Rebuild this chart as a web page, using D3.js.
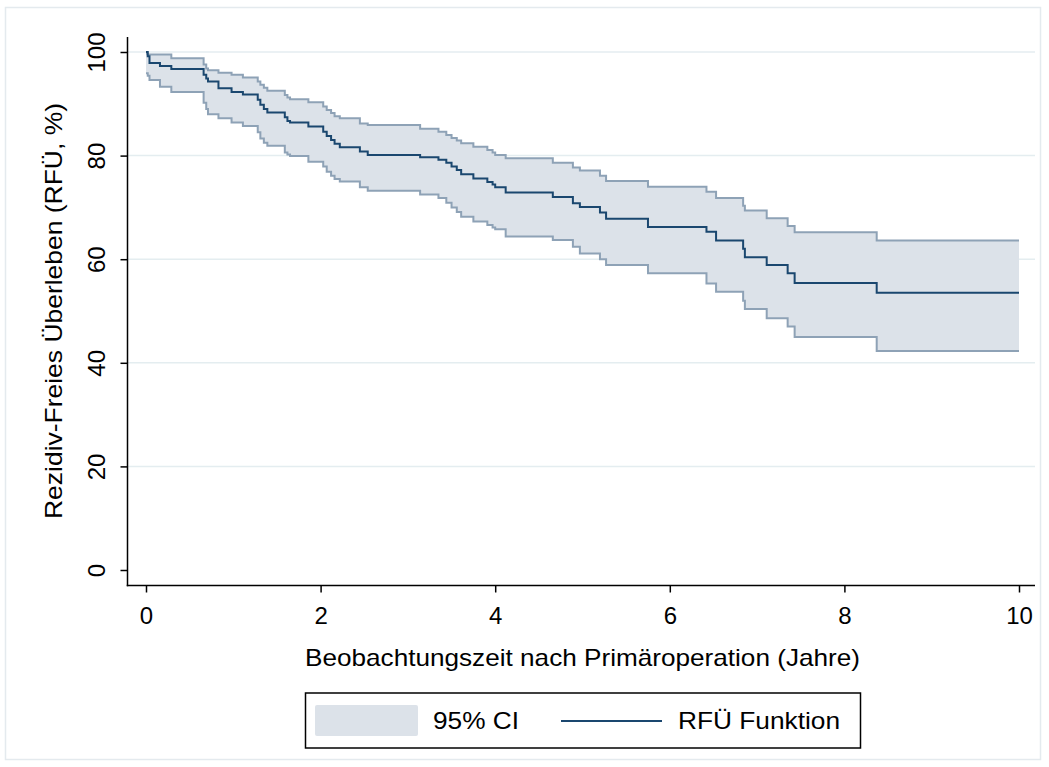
<!DOCTYPE html>
<html><head><meta charset="utf-8">
<script src="https://cdn.jsdelivr.net/npm/d3@7"></script>
<style>
html,body{margin:0;padding:0;background:#fff;}
text{font-family:"Liberation Sans",Arial,sans-serif;fill:#000;}
</style></head>
<body>
<svg id="chart" width="1049" height="767"></svg>
<script>
// ---- data ----
const times = [0, 0.02, 0.04, 0.16, 0.29, 0.66, 0.69, 0.71, 0.83, 0.98,
  1.11, 1.28, 1.31, 1.35, 1.39, 1.59, 1.62, 1.65, 1.86, 2.03,
  2.07, 2.12, 2.16, 2.22, 2.45, 2.54, 3.14, 3.35, 3.44, 3.50,
  3.56, 3.61, 3.75, 3.91, 3.97, 4.00, 4.12, 4.66, 4.89, 4.97,
  5.20, 5.27, 5.75, 6.42, 6.53, 6.84, 6.86, 7.11, 7.35, 7.43,
  8.37, 10];
const survival = [100, 99.2, 97.9, 97.3, 96.7, 95.6, 94.9, 94.3, 93.0, 92.3,
  91.8, 90.8, 89.8, 89.0, 88.3, 87.4, 86.7, 86.4, 85.6, 84.6,
  83.8, 83.0, 82.3, 81.6, 80.8, 80.1, 79.7, 79.2, 78.6, 77.9,
  77.2, 76.4, 75.6, 74.9, 74.4, 73.9, 72.9, 72.0, 70.8, 70.1,
  69.0, 67.8, 66.2, 65.3, 63.6, 62.0, 60.4, 58.9, 57.3, 55.4,
  53.5, 53.5];
const upperCI = [99.7, 99.5, 99.5, 99.5, 98.8, 97.6, 96.8, 96.5, 96.0, 95.6,
  95.1, 94.3, 93.7, 93.1, 92.5, 91.7, 91.2, 90.9, 90.3, 89.5,
  88.8, 88.2, 87.6, 87.2, 86.2, 85.9, 85.2, 84.6, 84.0, 83.4,
  82.9, 82.4, 81.7, 81.1, 80.6, 80.1, 79.5, 78.6, 77.7, 77.1,
  76.1, 75.1, 74.0, 73.0, 71.8, 70.3, 69.4, 67.9, 66.4, 65.2,
  63.6, 63.6];
const lowerCI = [95.9, 95.4, 94.6, 93.3, 92.3, 90.2, 89.0, 88.0, 87.2, 86.4,
  85.7, 84.5, 83.3, 82.5, 81.9, 80.6, 80.2, 79.9, 78.8, 77.9,
  76.9, 76.1, 75.5, 75.0, 73.9, 73.2, 72.5, 71.8, 70.9, 70.0,
  69.1, 68.2, 67.3, 66.6, 66.1, 65.8, 64.4, 63.7, 62.4, 61.1,
  60.0, 58.9, 57.3, 55.3, 53.7, 52.0, 50.4, 48.6, 47.0, 45.0,
  42.3, 42.3];
const xTicks = [0, 2, 4, 6, 8, 10];
const yTicks = [0, 20, 40, 60, 80, 100];
const xTitle = "Beobachtungszeit nach Primäroperation (Jahre)";
const yTitle = "Rezidiv-Freies Überleben (RFÜ, %)";
const legendLabels = ["95% CI", "RFÜ Funktion"];

// ---- layout ----
const svg = d3.select("#chart");
const x = d3.scaleLinear().domain([0, 10]).range([146, 1019]);
const y = d3.scaleLinear().domain([0, 100]).range([570, 52]);
const axisX = 127.5, axisY = 585.5, plotRight = 1035, plotTop = 37;

const colFill = "#dce2e9", colCIline = "#8ea2b6", colLine = "#1a476f", colGrid = "#e4edf0";

// outer frame
svg.append("rect").attr("x", 5.5).attr("y", 7.5).attr("width", 1035).attr("height", 752)
  .attr("fill", "none").attr("stroke", "#e4eaee").attr("stroke-width", 1.5);

// gridlines
svg.append("g").selectAll("line").data(yTicks.filter(d => d > 0)).join("line")
  .attr("x1", axisX).attr("x2", plotRight)
  .attr("y1", d => y(d)).attr("y2", d => y(d))
  .attr("stroke", colGrid).attr("stroke-width", 1.5);

const data = times.map((t, i) => ({t, s: survival[i], lo: lowerCI[i], hi: upperCI[i]}));

// CI area
svg.append("path").datum(data)
  .attr("d", d3.area().curve(d3.curveStepAfter).x(d => x(d.t)).y0(d => y(d.lo)).y1(d => y(d.hi)))
  .attr("fill", colFill).attr("stroke", "none");
// CI outlines
["lo", "hi"].forEach(k => {
  svg.append("path").datum(data)
    .attr("d", d3.line().curve(d3.curveStepAfter).x(d => x(d.t)).y(d => y(d[k])))
    .attr("fill", "none").attr("stroke", colCIline).attr("stroke-width", 2);
});
// survival line
svg.append("path").datum(data)
  .attr("d", d3.line().curve(d3.curveStepAfter).x(d => x(d.t)).y(d => y(d.s)))
  .attr("fill", "none").attr("stroke", colLine).attr("stroke-width", 2);

// y axis
const gy = svg.append("g").attr("transform", `translate(${axisX},0)`)
  .call(d3.axisLeft(y).tickValues(yTicks).tickSize(7).tickFormat(d3.format("d")));
gy.select(".domain").remove();
gy.selectAll(".tick line").attr("stroke", "#000").attr("stroke-width", 1.5);
gy.selectAll(".tick text").attr("x", 0).attr("y", -23).attr("dy", 0)
  .attr("transform", "rotate(-90)").attr("text-anchor", "middle")
  .style("font-size", "24px").style("font-family", "'Liberation Sans', Arial, sans-serif");
svg.append("line").attr("x1", axisX).attr("x2", axisX).attr("y1", plotTop).attr("y2", axisY + 0.75)
  .attr("stroke", "#000").attr("stroke-width", 1.5);

// x axis
const gx = svg.append("g").attr("transform", `translate(0,${axisY})`)
  .call(d3.axisBottom(x).tickValues(xTicks).tickSize(7).tickFormat(d3.format("d")));
gx.select(".domain").remove();
gx.selectAll(".tick line").attr("stroke", "#000").attr("stroke-width", 1.5);
gx.selectAll(".tick text").attr("y", 38).attr("dy", 0)
  .style("font-size", "24px").style("font-family", "'Liberation Sans', Arial, sans-serif");
svg.append("line").attr("x1", axisX - 0.75).attr("x2", plotRight).attr("y1", axisY).attr("y2", axisY)
  .attr("stroke", "#000").attr("stroke-width", 1.5);

// titles
svg.append("text").attr("x", 582.5).attr("y", 666).attr("text-anchor", "middle")
  .style("font-size", "24px").attr("textLength", 555).attr("lengthAdjust", "spacingAndGlyphs")
  .text(xTitle);
svg.append("text").attr("transform", "translate(62,311) rotate(-90)").attr("text-anchor", "middle")
  .style("font-size", "24px").attr("textLength", 416).attr("lengthAdjust", "spacingAndGlyphs")
  .text(yTitle);

// legend
const lg = svg.append("g");
lg.append("rect").attr("x", 305.5).attr("y", 693).attr("width", 555).attr("height", 55)
  .attr("fill", "#fff").attr("stroke", "#000").attr("stroke-width", 1.5);
lg.append("rect").attr("x", 315).attr("y", 705).attr("width", 103).attr("height", 31).attr("rx", 2)
  .attr("fill", colFill);
lg.append("text").attr("x", 433).attr("y", 729).style("font-size", "24px")
  .attr("textLength", 86).attr("lengthAdjust", "spacingAndGlyphs").text(legendLabels[0]);
lg.append("line").attr("x1", 561).attr("x2", 662).attr("y1", 721).attr("y2", 721)
  .attr("stroke", colLine).attr("stroke-width", 2);
lg.append("text").attr("x", 678).attr("y", 729).style("font-size", "24px")
  .attr("textLength", 162).attr("lengthAdjust", "spacingAndGlyphs").text(legendLabels[1]);
</script>
</body></html>
